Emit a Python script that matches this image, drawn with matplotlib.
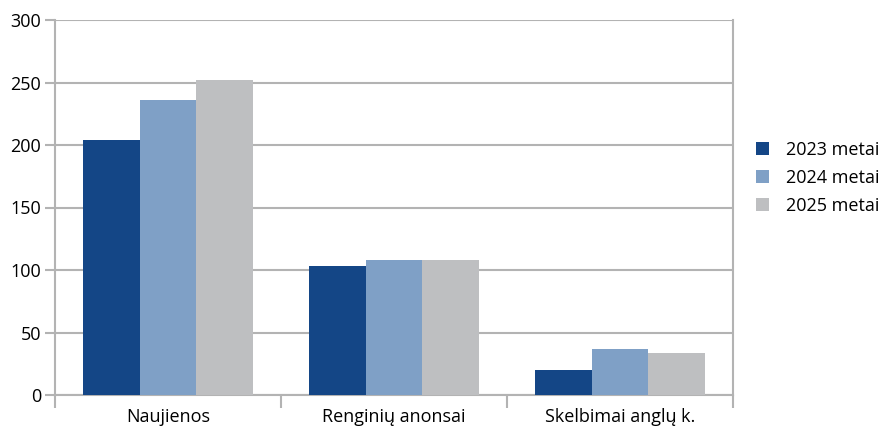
import numpy as np
import matplotlib.pyplot as plt

plt.rcParams['font.family'] = ['Open Sans', 'DejaVu Sans']

categories = ['Naujienos', 'Renginių anonsai', 'Skelbimai anglų k.']
series = ['2023 metai', '2024 metai', '2025 metai']
v2023 = [204, 103, 20]
v2024 = [236, 108, 37]
v2025 = [252, 108, 34]
colors = ['#144686', '#7fa0c6', '#bebfc1']

fig = plt.figure(figsize=(8.86, 4.30), dpi=100)
ax = fig.add_axes([55 / 886, 35 / 430, 678 / 886, 375 / 430])

x = np.arange(len(categories))
w = 0.25
for i, (vals, name) in enumerate(zip([v2023, v2024, v2025], series)):
    ax.bar(x + (i - 1) * w, vals, w, color=colors[i], label=name, zorder=3)

grid_c = '#b3b3b3'
fs = 13
ax.set_xlim(-0.5, 2.5)
ax.set_ylim(0, 300)
ax.set_yticks(range(0, 301, 50))
ax.yaxis.grid(True, color=grid_c, linewidth=1.5, zorder=0)
ax.set_xticks(x)
ax.set_xticklabels(categories)
ax.set_xticks([-0.5, 0.5, 1.5, 2.5], minor=True)
ax.tick_params(axis='x', which='major', length=0, pad=9, labelsize=fs)
ax.tick_params(axis='x', which='minor', length=9, width=1.5, color=grid_c)
ax.tick_params(axis='y', length=7, width=1.5, color=grid_c, labelsize=fs, pad=3)
for s in ax.spines.values():
    s.set_color(grid_c)
    s.set_linewidth(1.5)
ax.spines['top'].set_visible(False)

leg = ax.legend(loc='center left', bbox_to_anchor=(1.034, 0.579), frameon=False,
                fontsize=fs, handlelength=0.7, handleheight=0.7, handletextpad=0.95,
                labelspacing=0.55, borderpad=0, borderaxespad=0)

fig.savefig('out.png', dpi=100)
